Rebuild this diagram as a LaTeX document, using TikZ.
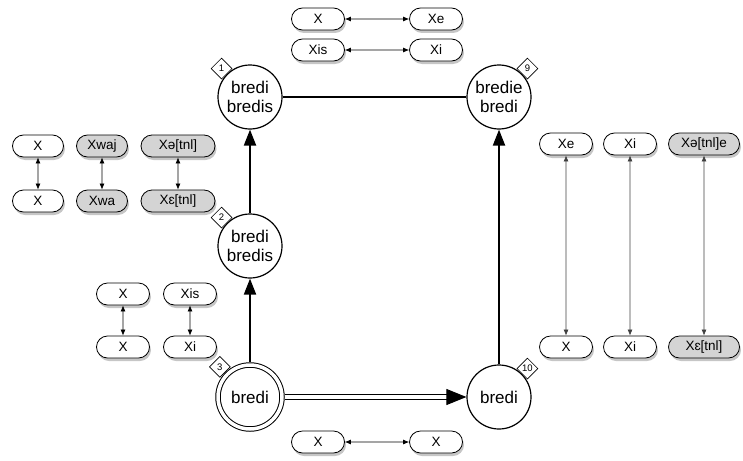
\documentclass[tikz,border=0pt]{standalone}
\usepackage{fontspec}
\setmainfont{Liberation Sans}
\usetikzlibrary{shapes.misc,shapes.geometric,arrows.meta,shadows}
\tikzset{
  state/.style={circle, draw, line width=1.2pt, fill=white, minimum size=64pt, inner sep=0pt, align=center,
    font=\fontsize{17}{19}\selectfont},
  tag/.style={diamond, draw, fill=white, line width=0.6pt, inner sep=0pt, minimum size=21pt,
    font=\fontsize{9.5}{9.5}\selectfont},
  form/.style={rounded rectangle, draw, line width=0.8pt, fill=white, minimum width=57pt, minimum height=22pt,
    inner sep=2pt, font=\fontsize{13.5}{14}\selectfont,
    drop shadow={opacity=0.45, shadow xshift=1.5pt, shadow yshift=-3pt}},
  formgray/.style={form, fill=black!17},
  link/.style={{Latex[length=6pt,width=5pt]}-{Latex[length=6pt,width=5pt]}, line width=0.7pt},
  longlink/.style={link, draw=black!75},
  mainedge/.style={line width=2pt, -{Triangle[length=16pt,width=12pt]}}
}
\begin{document}
\begin{tikzpicture}[x=1pt,y=-1pt]
  \useasboundingbox (0,0) rectangle (743,460);
  % states
  \node[state] (n1) at (250,97) {bredi\\bredis};
  \node[state] (n2) at (250,246) {bredi\\bredis};
  \node[state, double, double distance=3.5pt, line width=1pt, outer sep=3pt] (n3) at (250,397) {bredi};
  \node[state] (n9) at (499,97) {bredie\\bredi};
  \node[state] (n10) at (499,397) {bredi};
  \foreach \n in {1,2,3}
    \node[tag, anchor=south east] at (n\n.135) {\n};
  \foreach \n in {9,10}
    \node[tag, anchor=south west] at (n\n.45) {\n};
  \draw[mainedge] (n3) -- (n2);
  \draw[mainedge] (n2) -- (n1);
  \draw[mainedge] (n10) -- (n9);
  \draw[line width=1.2pt] (n1) -- (n9);
  \draw[line width=1pt, double, double distance=3.5pt, -{Triangle[length=20pt,width=16pt]}] (n3) -- (n10);
  % top and bottom pairs
  \foreach \y/\a/\b in {19/X/Xe, 50/Xis/Xi, 442/X/X}
  {
    \node[form] (ta\y) at (318,\y) {\a};
    \node[form] (tb\y) at (436,\y) {\b};
    \draw[link] (ta\y) -- (tb\y);
  }
  % left groups
  \foreach \x/\a/\b/\s/\w in {38/X/X/form/55, 102/Xwaj/Xwa/formgray/55, 178/Xə[tnl]/Xɛ[tnl]/formgray/78}
  {
    \node[\s, minimum width=\w pt] (lu\x) at (\x,146) {\a};
    \node[\s, minimum width=\w pt] (ld\x) at (\x,201) {\b};
    \draw[link] (lu\x) -- (ld\x);
  }
  \foreach \x/\a/\b in {123/X/X, 190/Xis/Xi}
  {
    \node[form] (mu\x) at (\x,294) {\a};
    \node[form] (md\x) at (\x,347) {\b};
    \draw[link] (mu\x) -- (md\x);
  }
  % right group
  \foreach \x/\a/\b/\s/\w in {566/Xe/X/form/57, 630/Xi/Xi/form/57, 704/Xə[tnl]e/Xɛ[tnl]/formgray/75}
  {
    \node[\s, minimum width=\w pt] (ru\x) at (\x,144) {\a};
    \node[\s, minimum width=\w pt] (rd\x) at (\x,347) {\b};
    \draw[longlink] (ru\x) -- (rd\x);
  }
\end{tikzpicture}
\end{document}
